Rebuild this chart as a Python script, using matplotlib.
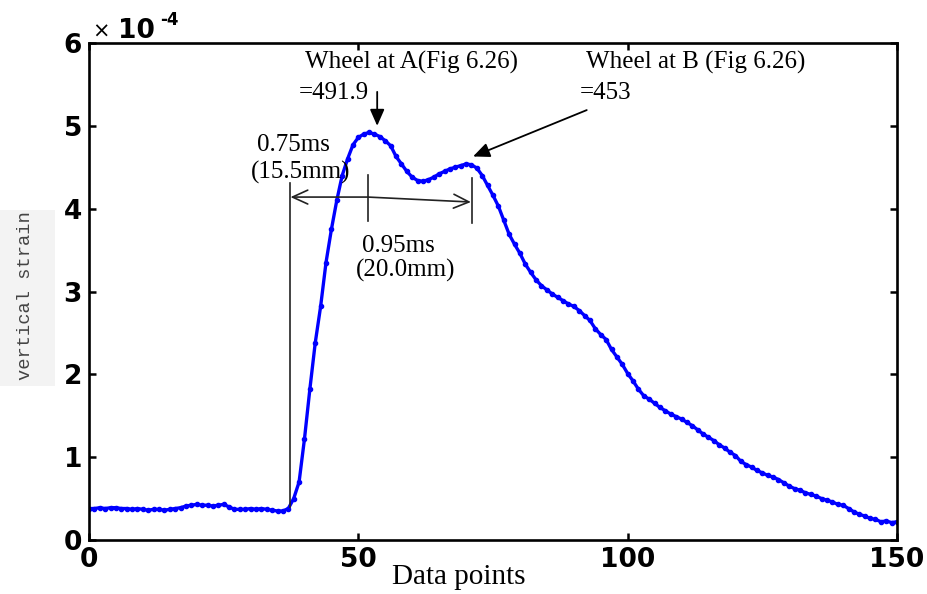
import numpy as np
import matplotlib
matplotlib.use('Agg')
from matplotlib import pyplot as plt

# strain readings, in units of 1e-4, one per data point (0..150)
strain_e4 = [
    0.38, 0.38, 0.39, 0.38, 0.39, 0.39, 0.38, 0.38, 0.37, 0.38,
    0.37, 0.36, 0.37, 0.37, 0.36, 0.37, 0.38, 0.39, 0.41, 0.42,
    0.43, 0.42, 0.42, 0.41, 0.42, 0.43, 0.40, 0.37, 0.37, 0.37,
    0.38, 0.37, 0.38, 0.37, 0.36, 0.35, 0.35, 0.38, 0.50, 0.70,
    1.22, 1.82, 2.38, 2.82, 3.35, 3.75, 4.10, 4.40, 4.60, 4.77,
    4.86, 4.90, 4.92, 4.90, 4.87, 4.82, 4.76, 4.63, 4.54, 4.45,
    4.38, 4.34, 4.33, 4.35, 4.38, 4.42, 4.45, 4.48, 4.50, 4.52,
    4.54, 4.53, 4.49, 4.40, 4.28, 4.16, 4.03, 3.86, 3.69, 3.57,
    3.46, 3.33, 3.23, 3.14, 3.07, 3.02, 2.97, 2.93, 2.89, 2.85,
    2.82, 2.77, 2.71, 2.65, 2.55, 2.48, 2.42, 2.30, 2.21, 2.12,
    2.01, 1.92, 1.82, 1.74, 1.70, 1.65, 1.60, 1.56, 1.52, 1.49,
    1.46, 1.42, 1.38, 1.33, 1.28, 1.24, 1.20, 1.15, 1.11, 1.06,
    1.02, 0.95, 0.91, 0.88, 0.84, 0.81, 0.78, 0.76, 0.73, 0.69,
    0.65, 0.62, 0.60, 0.57, 0.55, 0.53, 0.50, 0.48, 0.46, 0.43,
    0.42, 0.38, 0.34, 0.31, 0.29, 0.26, 0.25, 0.22, 0.23, 0.21,
    0.22,
]
data_points = np.arange(len(strain_e4))

xticks = [0, 50, 100, 150]
yticks = [0, 1, 2, 3, 4, 5, 6]

serif = ['Liberation Serif', 'DejaVu Serif']

fig = plt.figure(figsize=(9.28, 5.94), dpi=100)
ax = fig.add_axes([89 / 928, 54 / 594, 808 / 928, 497 / 594])

ax.plot(data_points, strain_e4, color='#0000ff', lw=2.4,
        marker='.', markersize=6)

ax.set_xlim(0, 150)
ax.set_ylim(0, 6)
ax.set_xticks(xticks)
ax.set_yticks(yticks)
ax.tick_params(direction='in', length=5, width=1.8, pad=5,
               top=True, right=True, labelsize=19)
for lab in ax.get_xticklabels() + ax.get_yticklabels():
    lab.set_fontfamily('DejaVu Sans')
    lab.set_fontweight('bold')
for sp in ax.spines.values():
    sp.set_linewidth(1.9)

# offset text  x 10^-4
ax.text(0.004, 1.010, '×', transform=ax.transAxes, fontsize=15,
        family='DejaVu Sans', va='baseline')
ax.text(0.036, 1.010, '10', transform=ax.transAxes, fontsize=19,
        family='DejaVu Sans', weight='bold', va='baseline')
ax.text(0.088, 1.036, '-4', transform=ax.transAxes, fontsize=12,
        family='DejaVu Sans', weight='bold', va='baseline')

ax.set_xlabel('Data points', family=serif, fontsize=21, va='center')
ax.xaxis.set_label_coords(0.457, -0.074)

# y label in its grey box
fig.patches.append(plt.Rectangle((0, 1 - 386 / 594), 55 / 928, 176 / 594,
                                 transform=fig.transFigure,
                                 facecolor='#f3f3f3', edgecolor='none'))
fig.text(26 / 928, 1 - 296 / 594, 'vertical strain', rotation=90,
         family=['Liberation Mono', 'DejaVu Sans Mono'], fontsize=13.5,
         color='#444444', ha='center', va='center')

# timing marks
ax.plot([37.3, 37.3], [0.40, 4.31], color='#222222', lw=1.2)
ax.plot([51.8, 51.8], [3.85, 4.41], color='#222222', lw=1.2)
ax.plot([71.1, 71.1], [3.83, 4.37], color='#222222', lw=1.2)
open_head = dict(arrowstyle='->,head_length=0.55,head_width=0.25',
                 color='#222222', lw=1.2, shrinkA=0, shrinkB=0,
                 mutation_scale=20)
ax.annotate('', xy=(37.4, 4.14), xytext=(51.8, 4.14), arrowprops=open_head)
ax.annotate('', xy=(70.9, 4.08), xytext=(51.8, 4.14), arrowprops=open_head)

ax.text(37.9, 4.77, '0.75ms', family=serif, fontsize=18, ha='center', va='center')
ax.text(39.3, 4.44, '(15.5mm)', family=serif, fontsize=18, ha='center', va='center')
ax.text(57.4, 3.55, '0.95ms', family=serif, fontsize=18, ha='center', va='center')
ax.text(58.7, 3.25, '(20.0mm)', family=serif, fontsize=18, ha='center', va='center')

# peak labels
solid_head = dict(arrowstyle='-|>,head_length=0.5,head_width=0.22',
                  color='black', lw=1.3, shrinkA=0, shrinkB=0,
                  mutation_scale=20)
ax.text(40.1, 5.76, 'Wheel at A(Fig 6.26)', family=serif, fontsize=18,
        ha='left', va='center')
ax.text(39.0, 5.40, '=491.9', family=serif, fontsize=18, ha='left', va='center')
ax.annotate('', xy=(53.5, 5.00), xytext=(53.5, 5.41), arrowprops=solid_head)

ax.text(92.3, 5.76, 'Wheel at B (Fig 6.26)', family=serif, fontsize=18,
        ha='left', va='center')
ax.text(91.1, 5.40, '=453', family=serif, fontsize=18, ha='left', va='center')
ax.annotate('', xy=(71.3, 4.63), xytext=(92.4, 5.19), arrowprops=solid_head)

fig.savefig('out.png', dpi=100)
